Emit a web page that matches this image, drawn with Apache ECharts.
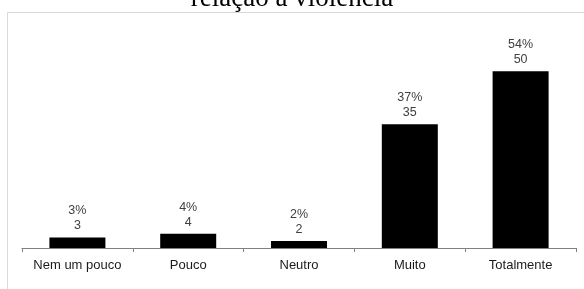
<!DOCTYPE html>
<html>
<head>
<meta charset="utf-8">
<script src="https://cdn.jsdelivr.net/npm/echarts@6/dist/echarts.min.js"></script>
<style>
  html, body { margin: 0; padding: 0; background: #fff; }
  #chart { width: 584px; height: 289px; }
</style>
</head>
<body>
<div id="chart"></div>
<script>
// dados
var categorias = ["Nem um pouco", "Pouco", "Neutro", "Muito", "Totalmente"];
var quantidades = [3, 4, 2, 35, 50];
var percentuais = [3, 4, 2, 37, 54];

var myChart = echarts.init(document.getElementById("chart"));

myChart.setOption({
  animation: false,
  backgroundColor: "#fff",
  title: {
    text: "relação à violência",
    left: "center",
    top: -15,
    padding: 0,
    textStyle: {
      fontFamily: "Liberation Serif",
      fontSize: 27,
      fontWeight: "normal",
      color: "#000"
    }
  },
  graphic: [
    {
      type: "rect",
      silent: true,
      shape: { x: 7.5, y: 12.5, width: 620, height: 320 },
      style: { fill: "none", stroke: "#d9d9d9", lineWidth: 1 }
    }
  ],
  grid: { left: 22, right: 8, top: 36, bottom: 41 },
  xAxis: {
    type: "category",
    data: categorias,
    axisLine: { lineStyle: { color: "#808080", width: 1 } },
    axisTick: { show: true, length: 4, lineStyle: { color: "#808080" } },
    axisLabel: {
      interval: 0,
      margin: 11,
      fontFamily: "Liberation Sans",
      fontSize: 13,
      color: "#1a1a1a"
    }
  },
  yAxis: {
    type: "value",
    min: 0,
    max: 60,
    show: false,
    splitLine: { show: false }
  },
  series: [
    {
      type: "bar",
      data: quantidades,
      barWidth: 56,
      itemStyle: { color: "#000" },
      label: {
        show: true,
        position: "top",
        distance: 4,
        fontFamily: "Liberation Sans",
        fontSize: 12.5,
        lineHeight: 15,
        color: "#404040",
        formatter: function (p) {
          return percentuais[p.dataIndex] + "%\n" + p.value;
        }
      }
    }
  ]
});
</script>
</body>
</html>
